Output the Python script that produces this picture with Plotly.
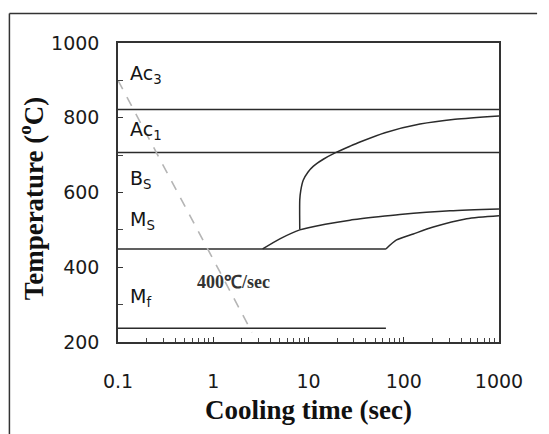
import plotly.graph_objects as go

# ---- data ----
x_ticks = [0.1, 1, 10, 100, 1000]
x_tick_labels = ["0.1", "1", "10", "100", "1000"]
y_ticks = [200, 400, 600, 800, 1000]
y_minor = [300, 500, 700, 900]
x_minor = [k * 10.0 ** e for e in range(-1, 3) for k in range(2, 10)]

ac3_t = [0.1, 1000]
ac3_T = [822, 822]
bs_t = [0.1, 1000]
bs_T = [707, 707]
ms_flat_t = [0.1, 65]
ms_flat_T = [449, 449]
mf_t = [0.1, 65]
mf_T = [237, 237]

ferrite_t = [8.1, 8.1, 8.3, 8.8, 9.9, 11.2, 14.3, 19, 27.4, 34.7, 63.5, 148, 345, 1000]
ferrite_T = [501, 581, 606, 633, 655, 670, 689, 706, 724, 735, 760, 783, 796, 805]

bainite_t = [3.3, 5.0, 8.1, 15, 27.3, 54, 91, 306, 1000]
bainite_T = [449, 476, 500, 515, 526, 535, 541, 551, 556]

lower_t = [65, 84, 126, 200, 458, 1000]
lower_T = [449, 473, 489, 507, 530, 538]

cool_t = [0.1, 2.55]
cool_T = [900, 226]

labels = ["Ac<sub>3</sub>", "Ac<sub>1</sub>", "B<sub>S</sub>", "M<sub>S</sub>", "M<sub>f</sub>"]
label_y = [0.893, 0.707, 0.545, 0.408, 0.150]

LINE = "#2b2b2b"
fig = go.Figure()

for t, T in [(ac3_t, ac3_T), (bs_t, bs_T), (ms_flat_t, ms_flat_T), (mf_t, mf_T)]:
    fig.add_trace(go.Scatter(x=t, y=T, mode="lines",
                             line=dict(color=LINE, width=1.5),
                             showlegend=False, hoverinfo="skip"))

for t, T in [(ferrite_t, ferrite_T), (bainite_t, bainite_T), (lower_t, lower_T)]:
    fig.add_trace(go.Scatter(x=t, y=T, mode="lines",
                             line=dict(color=LINE, width=1.5, shape="spline", smoothing=0.7),
                             showlegend=False, hoverinfo="skip"))

fig.add_trace(go.Scatter(x=cool_t, y=cool_T, mode="lines",
                         line=dict(color="#b5b5b5", width=1.6, dash="10px,9px"),
                         showlegend=False, hoverinfo="skip"))

for txt, yy in zip(labels, label_y):
    fig.add_annotation(text=txt, xref="paper", yref="paper", x=0.026, y=yy,
                       xanchor="left", yanchor="middle", showarrow=False,
                       font=dict(family="DejaVu Sans", size=19, color="#151515"))

fig.add_annotation(text="400℃/sec", xref="paper", yref="paper", x=0.304, y=0.2,
                   xanchor="center", yanchor="middle", showarrow=False,
                   font=dict(family="Liberation Serif", size=18, color="#333",
                             weight="bold"))

fig.add_annotation(text="Temperature (<sup>o</sup>C)", xref="paper", yref="paper",
                   x=-0.226, y=0.48, textangle=-90, xanchor="center", yanchor="middle",
                   showarrow=False,
                   font=dict(family="Liberation Serif", size=27, color="#111", weight="bold"))

fig.add_annotation(text="Cooling time (sec)", xref="paper", yref="paper",
                   x=0.5, y=-0.227, xanchor="center", yanchor="middle",
                   showarrow=False,
                   font=dict(family="Liberation Serif", size=27, color="#111", weight="bold"))

# outer frame (left and top edges)
fig.add_shape(type="line", xref="paper", yref="paper", x0=-0.285, x1=1.10,
              y0=1.0987, y1=1.0987, line=dict(color="#333", width=1.5))
fig.add_shape(type="line", xref="paper", yref="paper", x0=-0.285, x1=-0.285,
              y0=1.0987, y1=-0.31, line=dict(color="#333", width=1.5))

fig.update_xaxes(type="log", range=[-1, 3], tickvals=x_ticks, ticktext=x_tick_labels,
                 showgrid=False, zeroline=False, showline=True, mirror=True,
                 linecolor="#333", linewidth=1.5,
                 ticks="inside", ticklen=5, tickcolor="#333",
                 minor=dict(tickvals=x_minor, ticks="inside", ticklen=4, tickcolor="#444",
                            showgrid=False),
                 tickfont=dict(family="DejaVu Sans", size=19, color="#1a1a1a"),
                 ticklabelstandoff=21)
fig.update_yaxes(range=[200, 1000], tickvals=y_ticks,
                 showgrid=False, zeroline=False, showline=True, mirror=True,
                 linecolor="#333", linewidth=1.5,
                 ticks="inside", ticklen=5, tickcolor="#333",
                 minor=dict(tickvals=y_minor, ticks="inside", ticklen=5, tickcolor="#444",
                            showgrid=False),
                 tickfont=dict(family="DejaVu Sans", size=19, color="#1a1a1a"),
                 ticklabelstandoff=13)

fig.update_layout(width=549, height=434, margin=dict(l=118, r=50, t=43, b=92),
                  paper_bgcolor="white", plot_bgcolor="white")

fig.write_html("out.html")
